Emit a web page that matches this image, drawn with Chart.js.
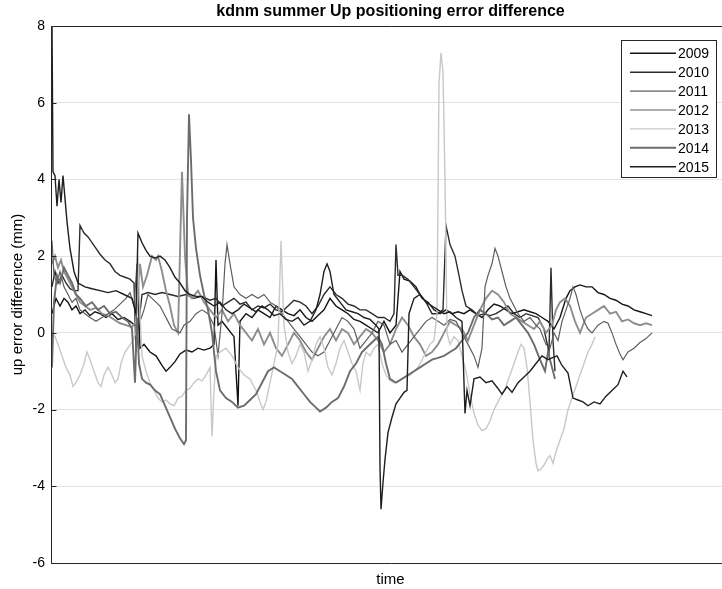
<!DOCTYPE html>
<html><head><meta charset="utf-8">
<script src="https://cdn.jsdelivr.net/npm/chart.js@4.4.1/dist/chart.umd.min.js"></script>
<style>html,body{margin:0;padding:0;background:#fff;overflow:hidden;width:722px;height:589px}</style>
</head><body><canvas id="c" width="730" height="589"></canvas>
<script>
// time index vs up error difference (mm)
const years = ['2009','2010','2011','2012','2013','2014','2015'];
const yTicks = [-6,-4,-2,0,2,4,6,8];

const s2009 = [[2,0.5],[6,0.9],[10,0.7],[14,0.9],[18,0.8],[22,0.6],[26,0.7],[30,0.5],[35,0.6],[40,0.45],[45,0.55],[50,0.5],[56,0.4],[62,0.5],[68,0.35],[74,0.4],[80,0.3],[85,0.2],[88,1.2],[90,-0.4],[94,-0.3],[100,-0.5],[106,-0.6],[112,-0.85],[116,-1.0],[120,-0.9],[125,-0.75],[130,-0.55],[136,-0.45],[142,-0.5],[148,-0.4],[154,-0.45],[160,-0.4],[164,-0.3],[166,1.9],[168,0.2],[172,0.3],[178,0.1],[184,-0.1],[188,-1.9],[190,0.3],[196,0.5],[202,0.4],[208,0.6],[214,0.5],[220,0.4],[226,0.7],[232,0.6],[238,0.5],[244,0.45],[250,0.6],[256,0.4],[262,0.3],[268,0.45],[274,0.6],[280,0.9],[286,0.7],[292,0.6],[298,0.5],[304,0.35],[310,0.3],[316,0.2],[322,0.1],[328,0.0],[334,0.3],[340,0.0],[346,0.2],[350,1.6],[354,1.4],[360,1.35],[366,1.2],[372,0.9],[378,0.8],[384,0.6],[390,0.5],[396,0.6],[402,0.5],[408,0.55],[414,0.5],[420,0.6],[426,0.5],[432,0.4],[438,0.6],[444,0.75],[450,0.7],[456,0.6],[462,0.5],[468,0.55],[474,0.6],[480,0.55],[486,0.5],[492,0.4],[498,0.3],[504,0.1],[510,0.4],[516,0.9],[520,1.1],[525,1.2],[530,1.25],[536,1.2],[542,1.2],[548,1.05],[554,1.0],[560,0.9],[566,0.85],[572,0.75],[578,0.7],[584,0.6],[590,0.55],[596,0.5],[602,0.45]];

const s2010 = [[2,1.2],[5,1.6],[8,1.3],[12,1.5],[16,1.3],[20,1.15],[24,1.1],[28,1.1],[30,2.8],[34,2.6],[38,2.5],[42,2.35],[46,2.2],[50,2.05],[55,1.9],[60,1.8],[65,1.6],[70,1.5],[75,1.45],[80,1.4],[84,1.3],[86,-0.5],[89,0.3],[92,1.0],[98,1.05],[105,1.0],[112,1.05],[120,1.0],[128,0.95],[136,1.0],[144,0.9],[152,0.95],[160,0.85],[166,0.9],[172,0.7],[178,0.8],[184,0.9],[190,0.75],[196,0.8],[202,0.6],[208,0.7],[214,0.65],[220,0.75],[226,0.6],[232,0.55],[238,0.7],[244,0.85],[250,0.8],[256,0.7],[262,0.5],[268,0.7],[274,1.0],[280,1.2],[286,1.0],[292,0.9],[298,0.75],[304,0.7],[310,0.6],[316,0.6],[322,0.5],[328,0.4],[334,0.4],[340,0.3],[344,0.5],[346,2.3],[348,1.5],[352,1.5],[358,1.4],[364,1.2],[370,1.0],[376,0.8],[382,0.5],[388,0.5],[393,0.6],[396,2.8],[400,2.3],[405,2.0],[409,1.5],[412,1.1],[416,0.7],[422,0.6],[428,0.45],[434,0.5],[440,0.45],[446,0.5],[452,0.6],[458,0.7],[464,0.5],[470,0.4],[476,0.5],[482,0.45],[488,0.4],[494,0.1],[499,-0.5],[501,1.7],[503,-0.2],[505,-1.0]];

const s2011 = [[2,1.8],[5,2.0],[8,1.7],[11,1.9],[14,1.6],[18,1.4],[22,1.2],[26,1.0],[30,0.8],[35,0.7],[40,0.6],[46,0.65],[52,0.5],[58,0.45],[64,0.35],[70,0.25],[76,0.2],[82,0.15],[86,0.3],[90,1.8],[93,1.2],[97,1.5],[102,2.0],[106,1.9],[108,2.0],[112,1.6],[116,1.1],[120,0.7],[124,0.2],[128,0.0],[132,4.2],[135,2.0],[138,1.0],[142,0.9],[148,1.1],[154,0.8],[160,0.6],[166,0.4],[172,0.6],[178,0.3],[184,0.5],[190,0.2],[196,0.0],[202,-0.2],[208,0.1],[214,-0.3],[220,0.0],[226,-0.4],[232,-0.6],[238,-0.3],[244,0.0],[250,-0.2],[256,-0.5],[262,-0.7],[268,-0.4],[274,-0.1],[280,0.1],[286,-0.2],[292,0.1],[298,0.0],[304,-0.3],[310,-0.1],[316,0.1],[322,0.0],[328,-0.2],[334,-0.5],[340,-0.3],[346,0.1],[352,0.4],[358,0.2],[364,-0.1],[370,-0.3],[376,-0.6],[382,-0.5],[388,-0.3],[394,0.0],[400,0.3],[406,0.2],[412,0.1],[418,-0.2],[424,0.2],[430,0.6],[436,0.9],[442,1.1],[448,1.0],[454,0.8],[460,0.5],[466,0.4],[472,0.3],[478,0.2],[484,0.1],[490,0.3],[496,0.0],[502,0.2],[506,0.6],[510,0.8],[515,0.9],[520,0.7],[525,0.3],[530,0.0],[536,0.4],[542,0.5],[548,0.6],[554,0.7],[560,0.5],[566,0.55],[572,0.3],[578,0.35],[584,0.25],[590,0.2],[596,0.25],[602,0.2]];

const s2012 = [[2,2.4],[4,1.5],[7,1.3],[10,1.6],[14,1.2],[18,1.0],[22,0.8],[26,0.9],[30,0.6],[35,0.5],[40,0.4],[46,0.3],[52,0.4],[58,0.5],[64,0.6],[70,0.75],[76,0.9],[80,1.05],[84,0.7],[87,1.8],[90,0.3],[94,0.6],[98,1.0],[102,0.9],[106,0.8],[110,0.7],[114,0.5],[118,0.3],[122,0.1],[126,0.05],[130,0.0],[134,0.2],[140,0.3],[146,0.5],[152,0.6],[158,0.5],[164,0.2],[168,-0.6],[172,0.5],[175,1.8],[177,2.3],[180,1.8],[184,1.2],[190,1.0],[196,0.9],[202,1.0],[208,0.9],[214,1.0],[220,0.8],[226,0.7],[232,0.5],[238,0.3],[244,0.1],[250,-0.1],[256,-0.3],[262,-0.5],[268,-0.6],[274,-0.5],[280,-0.2],[286,0.1],[292,0.4],[298,0.3],[304,0.1],[310,-0.4],[316,-0.2],[322,0.0],[328,0.3],[334,0.2],[340,-0.3],[346,-0.2],[352,-0.5],[358,-0.3],[364,-0.1],[370,0.1],[376,0.3],[382,0.4],[388,0.3],[394,0.2],[400,0.35],[406,0.3],[412,0.0],[418,-0.3],[424,-0.6],[428,-0.9],[432,-0.4],[435,1.2],[438,1.5],[442,1.8],[445,2.2],[448,2.0],[452,1.6],[456,1.2],[460,0.9],[464,0.7],[468,0.5],[474,0.3],[480,0.4],[486,0.2],[490,0.1],[496,-0.3],[500,-0.4],[504,0.0],[508,-0.2],[512,0.3],[516,0.6],[520,0.9],[523,1.2],[526,1.0],[530,0.6],[534,0.3],[538,0.1],[542,0.0],[548,0.2],[554,0.3],[558,0.25],[562,0.0],[566,-0.3],[570,-0.55],[573,-0.7],[578,-0.5],[584,-0.4],[590,-0.25],[596,-0.15],[602,0.0]];

const s2013 = [[2,0.0],[5,-0.1],[8,-0.3],[12,-0.6],[16,-0.9],[20,-1.1],[23,-1.4],[26,-1.3],[30,-1.1],[34,-0.8],[37,-0.5],[40,-0.7],[44,-1.0],[48,-1.3],[51,-1.4],[54,-1.1],[58,-0.9],[62,-1.1],[65,-1.3],[68,-1.2],[71,-0.8],[75,-0.5],[79,-0.35],[83,-0.2],[86,0.0],[88,2.0],[90,0.5],[92,-0.6],[96,-1.0],[100,-1.3],[104,-1.5],[108,-1.7],[112,-1.8],[116,-1.75],[120,-1.85],[124,-1.9],[128,-1.7],[132,-1.65],[136,-1.5],[140,-1.45],[144,-1.3],[148,-1.2],[152,-1.25],[156,-1.1],[160,-0.9],[162,-2.7],[164,-1.5],[166,-0.6],[170,-0.5],[176,-0.4],[182,-0.6],[188,-0.9],[194,-1.1],[200,-1.2],[206,-1.5],[210,-1.8],[213,-2.0],[216,-1.8],[220,-1.3],[224,-0.8],[228,-0.3],[231,2.4],[234,0.2],[238,-0.5],[242,-0.8],[246,-0.6],[250,-0.3],[254,-0.5],[258,-1.0],[262,-0.7],[266,-0.3],[270,-0.1],[274,-0.4],[278,-0.9],[282,-1.1],[286,-0.8],[290,-0.4],[294,-0.2],[298,-0.5],[302,-0.8],[306,-1.0],[310,-1.5],[313,-0.8],[316,-0.5],[320,-0.6],[324,-0.4],[328,-0.3],[332,-0.8],[336,-1.1],[340,-1.25],[344,-1.3],[348,-1.25],[352,-1.2],[356,-1.15],[360,-1.1],[364,-1.0],[368,-0.9],[372,-0.7],[376,-0.5],[380,-0.3],[384,-0.2],[387,0.5],[389,6.5],[391,7.3],[393,6.8],[395,4.0],[397,0.0],[400,-0.3],[404,-0.1],[408,-0.2],[412,-0.6],[416,-1.0],[420,-1.6],[424,-2.1],[428,-2.4],[432,-2.55],[436,-2.5],[440,-2.3],[444,-2.0],[448,-1.8],[452,-1.6],[456,-1.4],[460,-1.1],[464,-0.8],[468,-0.5],[471,-0.3],[474,-0.4],[477,-0.9],[480,-1.8],[483,-2.8],[486,-3.4],[488,-3.6],[491,-3.55],[494,-3.45],[497,-3.3],[500,-3.2],[503,-3.4],[506,-3.1],[510,-2.8],[514,-2.5],[518,-2.0],[522,-1.7],[526,-1.4],[530,-1.1],[534,-0.8],[538,-0.5],[542,-0.3],[545,-0.1]];

const s2014 = [[2,-0.9],[4,0.8],[7,1.5],[10,1.3],[14,1.7],[18,1.5],[22,1.3],[26,1.0],[30,0.9],[36,0.7],[42,0.8],[48,0.6],[54,0.7],[60,0.5],[66,0.55],[72,0.4],[78,0.3],[82,0.1],[85,-1.3],[87,0.4],[89,-0.8],[92,-1.2],[96,-1.3],[100,-1.35],[105,-1.5],[110,-1.6],[115,-1.9],[120,-2.2],[125,-2.5],[130,-2.75],[134,-2.9],[136,-2.8],[137,3.0],[139,5.7],[141,4.5],[143,3.0],[146,2.2],[150,1.5],[154,1.0],[158,0.6],[162,0.0],[166,-1.0],[170,-1.5],[176,-1.7],[182,-1.8],[188,-1.95],[194,-1.9],[200,-1.75],[206,-1.6],[212,-1.3],[218,-1.0],[224,-0.9],[230,-1.0],[236,-1.1],[242,-1.2],[248,-1.4],[254,-1.6],[260,-1.8],[266,-1.95],[270,-2.05],[276,-1.95],[282,-1.8],[288,-1.7],[294,-1.4],[300,-1.0],[306,-0.8],[312,-0.5],[318,-0.35],[324,-0.2],[328,-0.1],[332,-0.3],[336,-0.8],[340,-1.2],[346,-1.3],[352,-1.2],[358,-1.1],[364,-1.0],[370,-0.9],[376,-0.8],[382,-0.7],[388,-0.65],[394,-0.6],[400,-0.5],[406,-0.4],[412,-0.2],[418,0.0],[424,0.4],[430,0.6],[436,0.5],[442,0.35],[448,0.4],[454,0.2],[460,0.3],[466,0.4],[472,0.2],[478,0.0],[484,-0.3],[490,-0.7],[495,-1.0],[498,-0.5],[502,-0.9],[505,-1.2]];

const s2015 = [[2,8.0],[3,4.2],[5,4.1],[7,3.3],[9,4.0],[11,3.4],[13,4.1],[15,3.5],[17,2.9],[20,2.2],[24,1.6],[28,1.3],[35,1.2],[42,1.15],[50,1.1],[58,1.05],[66,1.1],[74,1.0],[82,0.9],[86,0.5],[88,2.6],[92,2.35],[96,2.15],[100,2.0],[105,1.95],[110,2.0],[115,1.9],[120,1.7],[125,1.45],[130,1.3],[135,1.1],[140,1.0],[146,0.95],[152,0.95],[158,0.8],[164,0.7],[170,0.8],[176,0.6],[182,0.5],[188,0.6],[194,0.75],[200,0.65],[206,0.55],[212,0.7],[218,0.6],[224,0.45],[230,0.5],[236,0.35],[242,0.3],[248,0.4],[254,0.2],[260,0.3],[266,0.6],[270,1.0],[274,1.6],[277,1.8],[280,1.6],[284,1.0],[290,0.8],[296,0.6],[302,0.55],[308,0.5],[314,0.4],[320,0.35],[326,0.2],[329,0.1],[330,-3.5],[331,-4.6],[333,-3.9],[335,-3.3],[338,-2.6],[342,-2.2],[346,-1.85],[350,-1.7],[354,-1.55],[357,-1.5],[359,0.5],[364,0.9],[370,1.0],[376,0.8],[382,0.7],[388,0.6],[394,0.5],[400,0.55],[406,0.4],[412,0.3],[415,-2.1],[417,-1.5],[420,-1.9],[424,-1.2],[430,-1.15],[436,-1.3],[442,-1.25],[448,-1.45],[452,-1.6],[457,-1.4],[462,-1.55],[468,-1.3],[474,-1.15],[480,-1.0],[486,-0.8],[492,-0.6],[498,-0.7],[502,-0.65],[507,-0.6],[512,-0.85],[518,-1.05],[523,-1.7],[528,-1.75],[533,-1.8],[538,-1.9],[544,-1.8],[550,-1.85],[556,-1.65],[562,-1.5],[568,-1.35],[573,-1.0],[577,-1.15]];

const seriesByYear = [s2009, s2010, s2011, s2012, s2013, s2014, s2015];
const lineColors = ['#141414','#2c2c2c','#8e8e8e','#5e5e5e','#c8c8c8','#6c6c6c','#1e1e1e'];
const lineWidths = [1.4,1.4,1.9,1.2,1.4,1.9,1.4];
const FONT = "'Liberation Sans', Arial, Helvetica, sans-serif";

const datasets = years.map((yr, i) => ({
  label: yr,
  data: seriesByYear[i].map(p => ({x: p[0], y: p[1]})),
  borderColor: lineColors[i],
  backgroundColor: lineColors[i],
  borderWidth: lineWidths[i],
  pointRadius: 0,
  tension: 0,
  fill: false,
  order: years.length - i
}));

const framePlugin = {
  id: 'frame',
  afterDatasetsDraw(chart) {
    const {ctx, chartArea: a, scales: {y}} = chart;
    ctx.save();
    ctx.strokeStyle = '#262626';
    ctx.lineWidth = 1;
    const L = Math.round(a.left) + 0.5, T = Math.round(a.top) + 0.5, B = Math.round(a.bottom) + 0.5;
    ctx.beginPath();
    ctx.moveTo(chart.width + 5, T); ctx.lineTo(L, T); ctx.lineTo(L, B); ctx.lineTo(chart.width + 5, B);
    ctx.stroke();
    ctx.beginPath();
    y.ticks.forEach(t => {
      const py = Math.round(y.getPixelForValue(t.value)) + 0.5;
      ctx.moveTo(L, py); ctx.lineTo(L + 5, py);
    });
    ctx.stroke();
    ctx.restore();
  }
};

const legendPlugin = {
  id: 'boxLegend',
  afterDraw(chart) {
    const {ctx} = chart;
    const x0 = 621.5, y0 = 40.5, w = 95, h = 137, rowGap = 18.9, firstRow = 53.3;
    ctx.save();
    ctx.fillStyle = '#fff';
    ctx.fillRect(x0, y0, w, h);
    ctx.strokeStyle = '#262626';
    ctx.lineWidth = 1;
    ctx.strokeRect(x0, y0, w, h);
    ctx.font = '14px ' + FONT;
    ctx.textBaseline = 'middle';
    ctx.textAlign = 'left';
    chart.data.datasets.forEach((ds, i) => {
      const yy = firstRow + i * rowGap;
      ctx.strokeStyle = ds.borderColor;
      ctx.lineWidth = ds.borderWidth;
      ctx.beginPath(); ctx.moveTo(630, yy); ctx.lineTo(676, yy); ctx.stroke();
      ctx.fillStyle = '#000';
      ctx.fillText(ds.label, 678, yy + 1);
    });
    ctx.restore();
  }
};

new Chart(document.getElementById('c'), {
  type: 'line',
  data: {datasets},
  options: {
    responsive: false,
    animation: false,
    events: [],
    layout: {padding: 0},
    plugins: {
      legend: {display: false},
      tooltip: {enabled: false},
      title: {
        display: true,
        fullSize: false,
        text: 'kdnm summer Up positioning error difference',
        color: '#000',
        font: {family: FONT, size: 16, weight: 'bold', lineHeight: 1.2},
        padding: {top: 2, bottom: 4.8}
      }
    },
    scales: {
      x: {
        type: 'linear', min: 1, max: 680,
        ticks: {display: false},
        grid: {display: false, drawTicks: false},
        border: {display: false},
        title: {display: true, text: 'time', color: '#000', font: {family: FONT, size: 15, lineHeight: 1.2}, padding: {top: 0, bottom: 0}},
        afterFit(s) { s.height = 26; }
      },
      y: {
        min: -6, max: 8,
        afterBuildTicks(s) { s.ticks = yTicks.map(v => ({value: v})); },
        ticks: {color: '#000', padding: 6, font: {family: FONT, size: 14}},
        grid: {color: '#e3e3e3', drawTicks: false},
        border: {display: false},
        title: {display: true, text: 'up error difference (mm)', color: '#000', font: {family: FONT, size: 15, lineHeight: 1.2}, padding: {top: 9, bottom: 0}},
        afterFit(s) { s.width = 51; }
      }
    }
  },
  plugins: [framePlugin, legendPlugin]
});
</script>
</body></html>
